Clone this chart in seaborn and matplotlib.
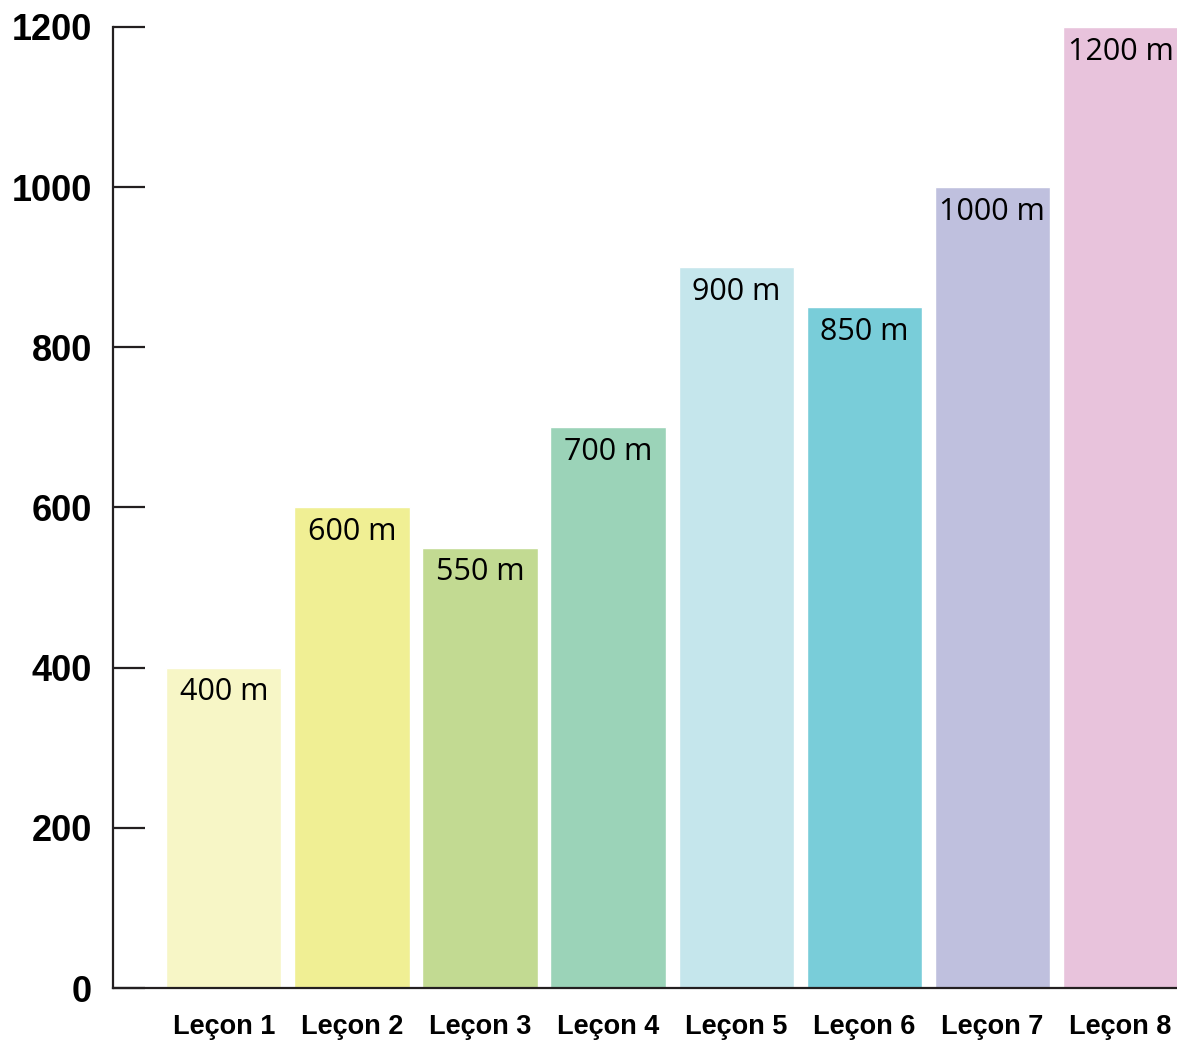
import pandas as pd
import matplotlib.pyplot as plt
import seaborn as sns

# === Data ===
lessons = ["Leçon 1", "Leçon 2", "Leçon 3", "Leçon 4",
           "Leçon 5", "Leçon 6", "Leçon 7", "Leçon 8"]
distances = [400, 600, 550, 700, 900, 850, 1000, 1200]
bar_labels = ["400 m", "600 m", "550 m", "700 m", "900 m", "850 m", "1000 m", "1200 m"]
colors = ["#f7f6c6", "#f0ef94", "#c2da92", "#9bd3b8",
          "#c5e6ec", "#79cdd9", "#bfc0de", "#e8c3dc"]
y_ticks = [0, 200, 400, 600, 800, 1000, 1200]

df = pd.DataFrame({"lesson": lessons, "distance": distances})

# === Setup ===
sns.set_style("white")
plt.rcParams["font.family"] = ["Liberation Sans", "DejaVu Sans"]
axis_color = "#231f20"

fig = plt.figure(figsize=(11.77, 10.44), dpi=100)
ax = fig.add_axes([113 / 1177, 56 / 1044, 1 - 113 / 1177, 961 / 1044])

sns.barplot(data=df, x="lesson", y="distance", hue="lesson", palette=colors,
            width=0.9, legend=False, saturation=1, ax=ax)

# value labels inside the top of each bar
for i, (v, lab) in enumerate(zip(distances, bar_labels)):
    ax.annotate(lab, xy=(i, v), xytext=(0, -7), textcoords="offset points",
                ha="center", va="top", fontsize=22,
                family=["Open Sans", "DejaVu Sans"], color="black")

# === Axes styling ===
ax.set_ylim(0, 1200)
ax.set_xlim(-0.865, 7.441)
ax.set_yticks(y_ticks)
ax.set_xlabel("")
ax.set_ylabel("")
sns.despine(ax=ax, top=True, right=True)
for side in ["left", "bottom"]:
    ax.spines[side].set_color(axis_color)
    ax.spines[side].set_linewidth(1.6)

ax.tick_params(axis="y", direction="in", length=23, width=1.6, color=axis_color,
               pad=15, labelsize=26, left=True, labelcolor="black")
ax.tick_params(axis="x", length=0, pad=19, labelsize=19.5, labelcolor="black")
for t in ax.get_yticklabels():
    t.set_fontweight("bold")
for t in ax.get_xticklabels():
    t.set_fontweight("bold")

plt.savefig("out.png", dpi=100)
plt.close()
